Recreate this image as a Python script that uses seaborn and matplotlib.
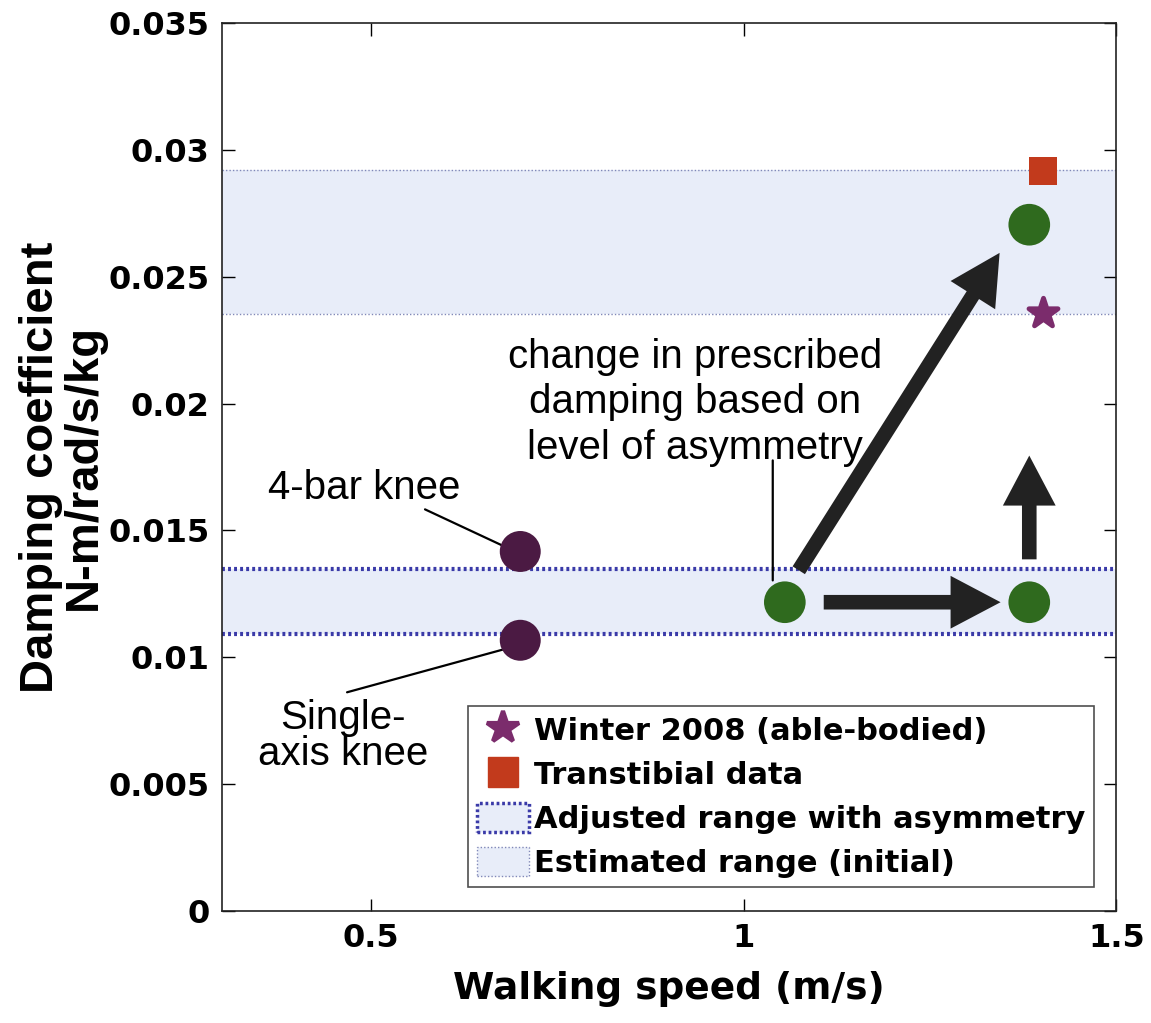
import numpy as np
import pandas as pd
import matplotlib
matplotlib.use("Agg")
import matplotlib.pyplot as plt
from matplotlib.patches import Patch
from matplotlib.lines import Line2D
import seaborn as sns

# ---- data ----
knee_speed = [0.70, 0.70]
knee_damping = [0.01417, 0.01067]

tf_speed = [1.055, 1.383, 1.383]
tf_damping = [0.01217, 0.01217, 0.02705]

winter_speed = [1.401]
winter_damping = [0.02358]

transtibial_speed = [1.401]
transtibial_damping = [0.02917]

estimated_range = [0.02354, 0.02921]
adjusted_range = [0.01091, 0.01346]

xticks = [0.5, 1.0, 1.5]
xtick_labels = ["0.5", "1", "1.5"]
yticks = [0, 0.005, 0.01, 0.015, 0.02, 0.025, 0.03, 0.035]
ytick_labels = ["0", "0.005", "0.01", "0.015", "0.02", "0.025", "0.03", "0.035"]

label_4bar = ["4-bar knee"]
label_single = ["Single-", "axis knee"]
label_change = ["change in prescribed", "damping based on", "level of asymmetry"]

legend_labels = ["Winter 2008 (able-bodied)", "Transtibial data",
                 "Adjusted range with asymmetry", "Estimated range (initial)"]

# ---- style ----
sns.set_style("ticks")
plt.rcParams['font.family'] = ['Liberation Sans', 'DejaVu Sans']
plt.rcParams['text.color'] = 'black'
plt.rcParams['axes.labelcolor'] = 'black'
plt.rcParams['xtick.color'] = 'black'
plt.rcParams['ytick.color'] = 'black'

PURPLE = "#4b1a43"
GREEN = "#2f6a1e"
STAR = "#7b2c6c"
SQUARE = "#c23a1c"
BAND = "#e8edf9"
ADJ_EDGE = "#3a3aa8"
EST_EDGE = "#8088b8"
ARROW = "#222222"

fig = plt.figure(figsize=(11.51, 10.23), dpi=100)
ax = fig.add_axes([0.193, 0.1095, 0.777, 0.8680])
ax.set_xlim(0.3, 1.5)
ax.set_ylim(0, 0.035)

# bands
ax.axhspan(estimated_range[0], estimated_range[1], color=BAND, lw=0, zorder=0)
for yv in estimated_range:
    ax.axhline(yv, color=EST_EDGE, lw=1.0, ls=(0, (1, 1.5)), zorder=1)
ax.axhspan(adjusted_range[0], adjusted_range[1], color=BAND, lw=0, zorder=0)
for yv in adjusted_range:
    ax.axhline(yv, color=ADJ_EDGE, lw=3.0, ls=(0, (0.7, 0.75)), zorder=1)

# points
knee_df = pd.DataFrame({"speed": knee_speed, "damping": knee_damping})
tf_df = pd.DataFrame({"speed": tf_speed, "damping": tf_damping})
w_df = pd.DataFrame({"speed": winter_speed, "damping": winter_damping})
t_df = pd.DataFrame({"speed": transtibial_speed, "damping": transtibial_damping})

sns.scatterplot(data=knee_df, x="speed", y="damping", ax=ax, s=870,
                color=PURPLE, edgecolor="none", zorder=3, legend=False)
sns.scatterplot(data=tf_df, x="speed", y="damping", ax=ax, s=900,
                color=GREEN, edgecolor="none", zorder=3, legend=False)
sns.scatterplot(data=w_df, x="speed", y="damping", ax=ax, s=480, marker="*",
                color=STAR, edgecolor=STAR, linewidth=3.5, zorder=3, legend=False)
ax.collections[-1].set_joinstyle("round")
sns.scatterplot(data=t_df, x="speed", y="damping", ax=ax, s=400, marker="s",
                color=SQUARE, edgecolor="none", zorder=3, legend=False)

# arrows (thick black, filled)
def arrow(x0, y0, x1, y1):
    ax.annotate("", xy=(x1, y1), xytext=(x0, y0),
                arrowprops=dict(arrowstyle="simple,head_length=3.6,head_width=3.8,tail_width=1.05",
                                color=ARROW, lw=0, shrinkA=0, shrinkB=0,
                                mutation_scale=10),
                zorder=4)

arrow(1.0737, 0.01343, 1.3432, 0.02594)
arrow(1.1072, tf_damping[0], 1.3445, tf_damping[1])
arrow(tf_speed[1], 0.01386, tf_speed[2], 0.01795)

# annotations
def leader(x0, y0, x1, y1):
    ax.annotate("", xy=(x1, y1), xytext=(x0, y0),
                arrowprops=dict(arrowstyle="-", color="black", lw=1.6,
                                shrinkA=0, shrinkB=0), zorder=2)

ax.text(0.490, 0.01622, label_4bar[0], fontsize=29, ha="center", va="baseline")
leader(0.5722, 0.01583, 0.6902, 0.01421)

ax.text(0.462, 0.00717, label_single[0], fontsize=29, ha="center", va="baseline")
ax.text(0.462, 0.00575, label_single[1], fontsize=29, ha="center", va="baseline")
leader(0.4676, 0.00862, 0.7023, 0.01051)

for i, line in enumerate(label_change):
    ax.text(0.934, 0.02142 - i * 0.00181, line, fontsize=29, ha="center",
            va="baseline", zorder=5)
leader(1.0388, 0.01776, 1.0388, 0.01303)

# axes styling
ax.set_xticks(xticks)
ax.set_xticklabels(xtick_labels)
ax.set_yticks(yticks)
ax.set_yticklabels(ytick_labels)
ax.tick_params(direction="in", length=9, width=1, top=True, right=True, pad=9)
for lab in ax.get_xticklabels() + ax.get_yticklabels():
    lab.set_fontfamily("DejaVu Sans")
    lab.set_fontweight("bold")
    lab.set_fontsize(23)
for sp in ax.spines.values():
    sp.set_visible(True)
    sp.set_linewidth(1.2)
    sp.set_color("#222222")

ax.set_xlabel("Walking speed (m/s)", fontsize=27, fontweight="bold", labelpad=12,
              fontfamily=["DejaVu Sans"])
ax.set_ylabel("Damping coefficient\nN-m/rad/s/kg", fontsize=34, fontweight="bold",
              labelpad=2, linespacing=0.95)

# legend
handles = [
    Line2D([0], [0], marker="*", color="none", markerfacecolor=STAR,
           markeredgecolor=STAR, markeredgewidth=3, markersize=24),
    Line2D([0], [0], marker="s", color="none", markerfacecolor=SQUARE,
           markeredgecolor=SQUARE, markersize=21),
    Patch(facecolor=BAND, edgecolor=ADJ_EDGE, linestyle=(0, (0.8, 0.8)), linewidth=2.5),
    Patch(facecolor=BAND, edgecolor=EST_EDGE, linestyle=(0, (1, 1.5)), linewidth=1.0),
]
leg = ax.legend(handles, legend_labels, loc="lower right",
                bbox_to_anchor=(0.975, 0.027),
                prop=dict(size=22, weight="bold", family="DejaVu Sans"),
                frameon=True, fancybox=False, edgecolor="#222222",
                handlelength=1.7, handleheight=1.1, handletextpad=0.15,
                labelspacing=0.42, borderpad=0.3, borderaxespad=0)
leg.get_frame().set_linewidth(1.2)

fig.savefig("out.png", dpi=100)
